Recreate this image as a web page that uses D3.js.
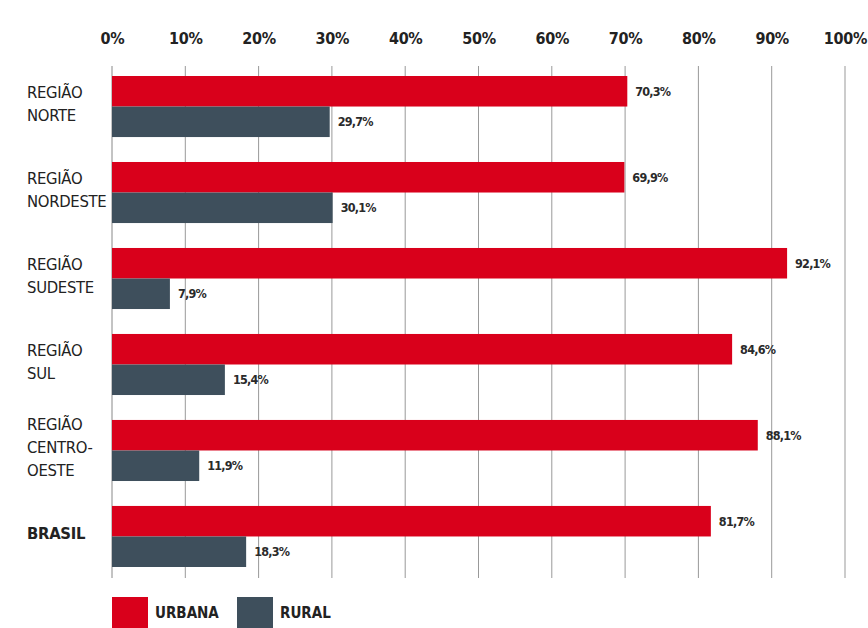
<!DOCTYPE html>
<html><head><meta charset="utf-8">
<script src="https://cdn.jsdelivr.net/npm/d3@7/dist/d3.min.js"></script>
<style>
body{margin:0;background:#fff;}
text{font-family:"DejaVu Sans Condensed","Liberation Sans Narrow","Roboto",sans-serif;}
</style></head>
<body><svg id="chart" width="868" height="628"></svg>
<script>
const categories = [["REGIÃO","NORTE"],["REGIÃO","NORDESTE"],["REGIÃO","SUDESTE"],["REGIÃO","SUL"],["REGIÃO","CENTRO-","OESTE"],["BRASIL"]];
const urbana = [70.3, 69.9, 92.1, 84.6, 88.1, 81.7];
const rural  = [29.7, 30.1, 7.9, 15.4, 11.9, 18.3];
const ticks = [0,10,20,30,40,50,60,70,80,90,100];
const seriesNames = ["URBANA","RURAL"];
const colors = ["#d9001b","#3e4f5c"];

const svg = d3.select("#chart");
const x = d3.scaleLinear().domain([0,100]).range([112,845]);
const y = d3.scaleBand().domain(d3.range(categories.length)).range([76,567]).paddingInner(0.29).paddingOuter(0);
const sub = d3.scaleBand().domain([0,1]).range([0,y.bandwidth()]);

// gridlines
svg.append("g").selectAll("line").data(ticks).join("line")
  .attr("x1",d=>x(d)).attr("x2",d=>x(d)).attr("y1",66).attr("y2",578)
  .attr("stroke",d=>d===0?"#888":"#999").attr("stroke-width",1);

// axis labels
const axis = d3.axisTop(x).tickValues(ticks).tickFormat(d=>d+"%").tickSize(0);
const ag = svg.append("g").attr("transform","translate(0,47)").call(axis);
ag.select(".domain").remove();
ag.selectAll("text").attr("font-size",16).attr("font-weight","bold").attr("fill","#222").attr("dy",0)
  .attr("letter-spacing","-0.3px");

const fmt = v => v.toFixed(1).replace(".",",")+"%";
const series = [urbana, rural];
series.forEach((vals,si)=>{
  const g = svg.append("g");
  g.selectAll("rect").data(vals).join("rect")
    .attr("x",x(0)).attr("y",(d,i)=>y(i)+sub(si))
    .attr("width",d=>x(d)-x(0)).attr("height",sub.bandwidth())
    .attr("fill",colors[si]);
  g.selectAll("text").data(vals).join("text")
    .attr("x",d=>x(d)+8).attr("y",(d,i)=>y(i)+sub(si)+sub.bandwidth()/2)
    .attr("dy","0.35em").attr("font-size",12.5).attr("font-weight","bold").attr("fill","#2a2a2a")
    .attr("letter-spacing","-0.8px")
    .text(fmt);
});

// category labels
const lg = svg.append("g");
categories.forEach((lines,i)=>{
  const cy = y(i)+y.bandwidth()/2 - 3;
  const lh = 23;
  const t = lg.append("text").attr("x",27).attr("font-size",16.5)
    .attr("font-weight", i===categories.length-1?"bold":"normal").attr("fill","#222")
    .attr("letter-spacing","-0.3px");
  lines.forEach((l,k)=>{
    t.append("tspan").attr("x",27).attr("y",cy + (k-(lines.length-1)/2)*lh).attr("dy","0.35em").text(l);
  });
});

// legend
const leg = svg.append("g");
const legX = [112,237];
seriesNames.forEach((n,i)=>{
  leg.append("rect").attr("x",legX[i]).attr("y",597).attr("width",36).attr("height",31).attr("fill",colors[i]);
  leg.append("text").attr("x",legX[i]+43).attr("y",613).attr("dy","0.35em").attr("font-size",15)
    .attr("font-weight","bold").attr("fill","#222").text(n);
});
</script></body></html>
